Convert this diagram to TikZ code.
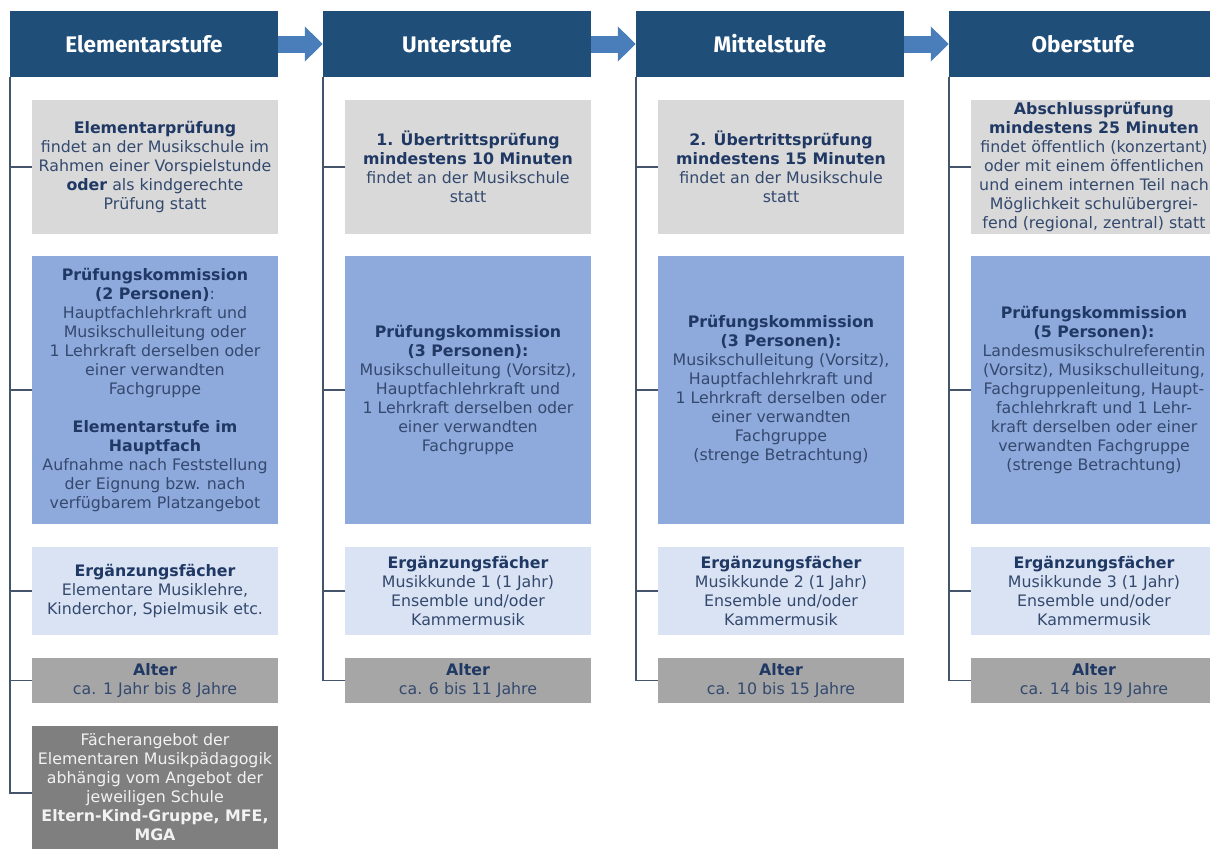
\documentclass[tikz,border=0pt]{standalone}
\usepackage{fontspec}
\setmainfont{DejaVu Sans}
\newfontfamily\hdfont{Fira Sans}
\usetikzlibrary{arrows.meta}
\definecolor{hdr}{HTML}{1F4E79}
\definecolor{arrc}{HTML}{4A7EBB}
\definecolor{exg}{HTML}{D9D9D9}
\definecolor{komm}{HTML}{8EA9DB}
\definecolor{erg}{HTML}{DAE3F3}
\definecolor{alt}{HTML}{A6A6A6}
\definecolor{fach}{HTML}{7F7F7F}
\definecolor{txt}{HTML}{34496E}
\definecolor{txtb}{HTML}{1F3864}
\definecolor{linec}{HTML}{44546A}
\newcommand\hb[1]{\textbf{\color{txtb}#1}}
\tikzset{
  hdrbox/.style={fill=hdr, minimum width=268pt, minimum height=66pt, inner sep=0pt,
    text=white, font=\hdfont\bfseries\fontsize{22.5}{26}\selectfont},
  cbox/.style={minimum width=246pt, inner sep=0pt, align=center,
    font=\fontsize{15.8}{19}\selectfont, text=txt},
  exambox/.style={cbox, fill=exg, minimum height=134pt},
  kommbox/.style={cbox, fill=komm, minimum height=268pt},
  ergbox/.style={cbox, fill=erg, minimum height=88pt},
  altbox/.style={cbox, fill=alt, minimum height=45pt},
  fachbox/.style={cbox, fill=fach, minimum height=123pt, text=white!95!black},
  tree/.style={draw=linec, line width=1.5pt},
  flow/.style={draw=arrc, line width=17pt, -{Triangle[width=34pt,length=18pt]}}
}
\begin{document}
\begin{tikzpicture}[x=1pt,y=-1pt]
\useasboundingbox (0,0) rectangle (1210,849);
\clip (0,0) rectangle (1210,849);
% headers
\node[hdrbox] (h1) at (144,44) {Elementarstufe};
\node[hdrbox] (h2) at (457,44) {Unterstufe};
\node[hdrbox] (h3) at (770,44) {Mittelstufe};
\node[hdrbox] (h4) at (1083,44) {Oberstufe};
\draw[flow] (h1.east) -- (h2.west);
\draw[flow] (h2.east) -- (h3.west);
\draw[flow] (h3.east) -- (h4.west);
% column 1
\node[exambox] (e1) at (155,167) {\hb{Elementarprüfung}\\findet an der Musikschule im\\Rahmen einer Vorspielstunde\\\hb{oder} als kindgerechte\\Prüfung statt};
\node[kommbox] (k1) at (155,390) {\hb{Prüfungskommission}\\\hb{(2 Personen)}:\\Hauptfachlehrkraft und\\Musikschulleitung oder\\1 Lehrkraft derselben oder\\einer verwandten\\Fachgruppe\\[19pt]\hb{Elementarstufe im}\\\hb{Hauptfach}\\Aufnahme nach Feststellung\\der Eignung bzw. nach\\verfügbarem Platzangebot};
\node[ergbox] (g1) at (155,591) {\hb{Ergänzungsfächer}\\Elementare Musiklehre,\\Kinderchor, Spielmusik etc.};
\node[altbox] (a1) at (155,680.5) {\hb{Alter}\\ca. 1 Jahr bis 8 Jahre};
\node[fachbox] (f1) at (155,787.5) {Fächerangebot der\\Elementaren Musikpädagogik\\abhängig vom Angebot der\\jeweiligen Schule\\\textbf{Eltern-Kind-Gruppe, MFE,}\\\textbf{MGA}};
% column 2
\node[exambox] (e2) at (468,167) {\hb{1. Übertrittsprüfung}\\\hb{mindestens 10 Minuten}\\findet an der Musikschule\\statt};
\node[kommbox] (k2) at (468,390) {\hb{Prüfungskommission}\\\hb{(3 Personen):}\\Musikschulleitung (Vorsitz),\\Hauptfachlehrkraft und\\1 Lehrkraft derselben oder\\einer verwandten\\Fachgruppe};
\node[ergbox] (g2) at (468,591) {\hb{Ergänzungsfächer}\\Musikkunde 1 (1 Jahr)\\Ensemble und/oder\\Kammermusik};
\node[altbox] (a2) at (468,680.5) {\hb{Alter}\\ca. 6 bis 11 Jahre};
% column 3
\node[exambox] (e3) at (781,167) {\hb{2. Übertrittsprüfung}\\\hb{mindestens 15 Minuten}\\findet an der Musikschule\\statt};
\node[kommbox] (k3) at (781,390) {\hb{Prüfungskommission}\\\hb{(3 Personen):}\\Musikschulleitung (Vorsitz),\\Hauptfachlehrkraft und\\1 Lehrkraft derselben oder\\einer verwandten\\Fachgruppe\\(strenge Betrachtung)};
\node[ergbox] (g3) at (781,591) {\hb{Ergänzungsfächer}\\Musikkunde 2 (1 Jahr)\\Ensemble und/oder\\Kammermusik};
\node[altbox] (a3) at (781,680.5) {\hb{Alter}\\ca. 10 bis 15 Jahre};
% column 4
\node[exambox] (e4) at (1094,167) {\hb{Abschlussprüfung}\\\hb{mindestens 25 Minuten}\\findet öffentlich (konzertant)\\oder mit einem öffentlichen\\und einem internen Teil nach\\Möglichkeit schulübergrei-\\fend (regional, zentral) statt};
\node[kommbox] (k4) at (1094,390) {\hb{Prüfungskommission}\\\hb{(5 Personen):}\\Landesmusikschulreferentin\\(Vorsitz), Musikschulleitung,\\Fachgruppenleitung, Haupt-\\fachlehrkraft und 1 Lehr-\\kraft derselben oder einer\\verwandten Fachgruppe\\(strenge Betrachtung)};
\node[ergbox] (g4) at (1094,591) {\hb{Ergänzungsfächer}\\Musikkunde 3 (1 Jahr)\\Ensemble und/oder\\Kammermusik};
\node[altbox] (a4) at (1094,680.5) {\hb{Alter}\\ca. 14 bis 19 Jahre};
% tree connectors
\draw[tree] (h1.south west) |- ([yshift=-5.5pt]f1.west);
\foreach \b in {e1,k1,g1,a1} \draw[tree] (h1.south west |- \b.west) -- (\b.west);
\foreach \c in {2,3,4} {
  \draw[tree] (h\c.south west) |- (a\c.west);
  \foreach \b in {e,k,g} \draw[tree] (h\c.south west |- \b\c.west) -- (\b\c.west);
}
\end{tikzpicture}
\end{document}
